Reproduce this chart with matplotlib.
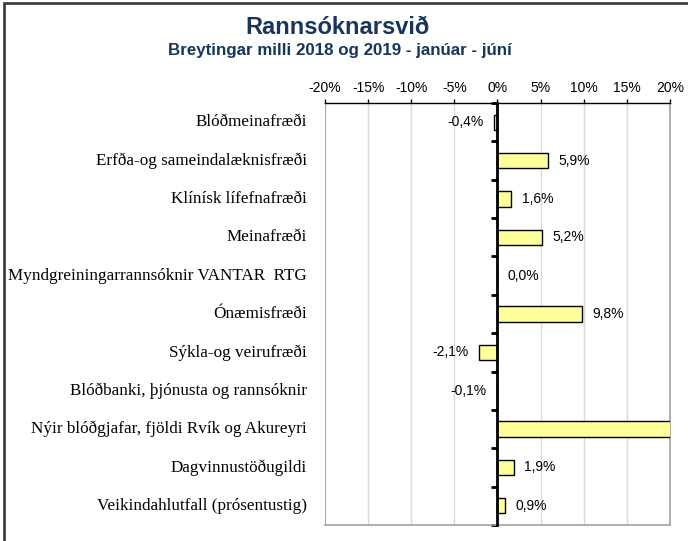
import matplotlib
matplotlib.use("Agg")
import matplotlib.pyplot as plt
import matplotlib.transforms as mtransforms
from matplotlib.patches import Rectangle

# Categories, top to bottom
categories = [
    "Blóðmeinafræði",
    "Erfða-og sameindalæknisfræði",
    "Klínísk lífefnafræði",
    "Meinafræði",
    "Myndgreiningarrannsóknir VANTAR  RTG",
    "Ónæmisfræði",
    "Sýkla-og veirufræði",
    "Blóðbanki, þjónusta og rannsóknir",
    "Nýir blóðgjafar, fjöldi Rvík og Akureyri",
    "Dagvinnustöðugildi",
    "Veikindahlutfall (prósentustig)",
]
# Change between 2018 and 2019 (fraction)
changes = [-0.004, 0.059, 0.016, 0.052, 0.000, 0.098, -0.021, -0.001, 0.235, 0.019, 0.009]
x_ticks = [-0.20, -0.15, -0.10, -0.05, 0.0, 0.05, 0.10, 0.15, 0.20]

title = "Rannsóknarsvið"
subtitle = "Breytingar milli 2018 og 2019 - janúar - júní"

fig = plt.figure(figsize=(6.88, 5.41), dpi=100)
ax = fig.add_axes([0.4724, 0.0296, 0.5014, 0.78])

ypos = list(range(len(categories)))
ax.barh(ypos, changes, height=0.4, color="#ffff99", edgecolor="black", linewidth=1, zorder=3)

ax.set_xlim(-0.20, 0.20)
ax.set_ylim(len(categories) - 0.5, -0.5)

# vertical gridlines
for xv in x_ticks:
    ax.axvline(xv, color="#d9d9d9", linewidth=1, zorder=0)
ax.axvline(-0.20, color="#a0a0a0", linewidth=1.2, zorder=1)

# top value axis
ax.xaxis.tick_top()
ax.set_xticks(x_ticks)
ax.set_xticklabels([f"{int(round(v * 100))}%" for v in x_ticks],
                   fontsize=10, family="Liberation Sans")
ax.tick_params(axis="x", direction="out", length=3, width=1, pad=3, color="black")

# category axis sits at zero, ticks between categories
ax.spines["left"].set_position(("data", 0))
ax.spines["left"].set_linewidth(2)
ax.spines["left"].set_zorder(4)
ax.set_yticks([i - 0.5 for i in range(len(categories) + 1)])
ax.tick_params(axis="y", direction="out", length=4, width=2, labelleft=False)
ax.spines["top"].set_color("black")
ax.spines["top"].set_linewidth(1)
for s in ("right", "bottom"):
    ax.spines[s].set_color("#a0a0a0")
    ax.spines[s].set_linewidth(1.2)

trans = mtransforms.blended_transform_factory(ax.transAxes, ax.transData)
for y, name in zip(ypos, categories):
    ax.text(-0.052, y, name, transform=trans, ha="right", va="center",
            fontsize=12.3, family="Liberation Serif")

# value labels
for y, v in zip(ypos, changes):
    if v > 0.20:
        continue
    txt = f"{v * 100:.1f}%".replace(".", ",")
    if v < 0:
        ax.annotate(txt, (v, y), xytext=(-7.5, 0), textcoords="offset points",
                    ha="right", va="center", fontsize=10, family="Liberation Sans")
    else:
        ax.annotate(txt, (v, y), xytext=(7.5, 0), textcoords="offset points",
                    ha="left", va="center", fontsize=10, family="Liberation Sans")

fig.text(0.491, 1 - 28 / 541, title, ha="center", va="center", fontsize=17,
         fontweight="bold", color="#17365d", family="Liberation Sans")
fig.text(0.494, 1 - 51 / 541, subtitle, ha="center", va="center", fontsize=12.2,
         fontweight="bold", color="#17365d", family="Liberation Sans")

# chart frame
fig.patches.append(Rectangle((4 / 688, -0.01), 1.1, 1 - 3 / 541 + 0.01,
                             transform=fig.transFigure, fill=False,
                             edgecolor="#404040", linewidth=2))

fig.savefig("out.png", dpi=100)
